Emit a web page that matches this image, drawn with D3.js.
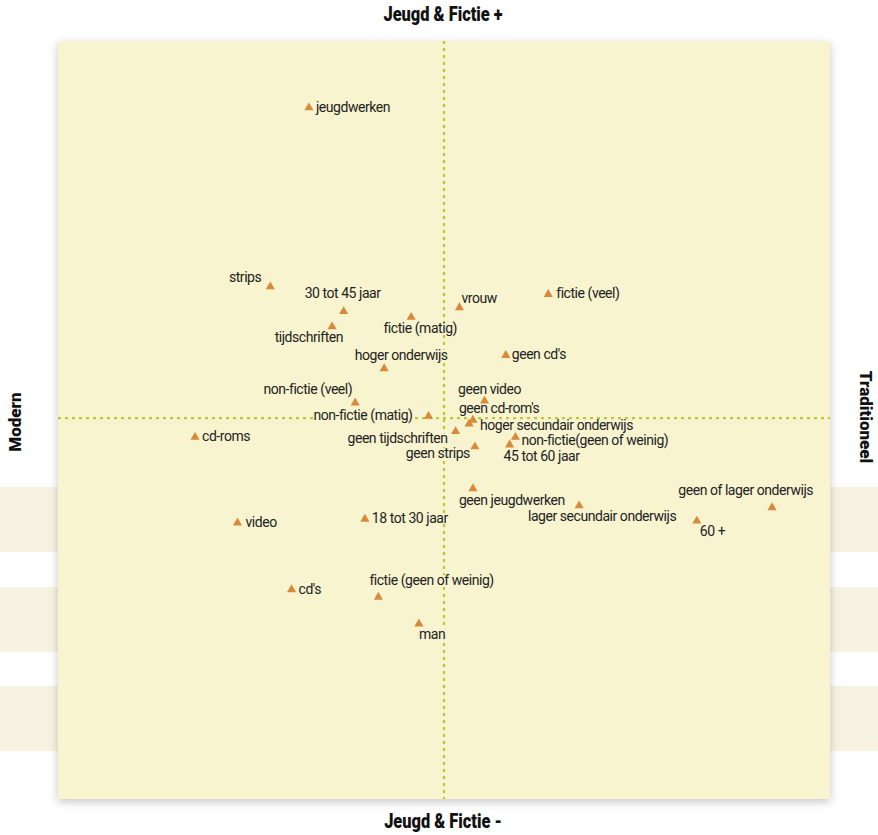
<!DOCTYPE html>
<html>
<head>
<meta charset="utf-8">
<script src="https://cdn.jsdelivr.net/npm/d3@7"></script>
<style>
  body { margin: 0; background: #fff; }
  text { font-family: Roboto, "DejaVu Sans Condensed", sans-serif; }
</style>
</head>
<body>
<div id="chart"></div>
<script>
// categorieën en hun coördinaten op de twee assen
const labels = ['jeugdwerken', 'strips', '30 tot 45 jaar', 'tijdschriften', 'fictie (matig)',
  'hoger onderwijs', 'vrouw', 'fictie (veel)', "geen cd's", 'non-fictie (veel)',
  'non-fictie (matig)', 'geen video', "geen cd-rom's", 'hoger secundair onderwijs',
  'geen tijdschriften', 'geen strips', 'non-fictie(geen of weinig)', '45 tot 60 jaar',
  'cd-roms', 'geen jeugdwerken', 'lager secundair onderwijs', 'geen of lager onderwijs',
  '60 +', 'video', '18 tot 30 jaar', "cd's", 'fictie (geen of weinig)', 'man'];
const xValues = [-0.70, -0.90, -0.52, -0.58, -0.17, -0.31, 0.08, 0.54, 0.32, -0.46,
  -0.08, 0.21, 0.15, 0.13, 0.06, 0.16, 0.37, 0.34, -1.29, 0.15, 0.70, 1.70,
  1.31, -1.07, -0.41, -0.79, -0.34, -0.13];
const yValues = [1.63, 0.69, 0.56, 0.48, 0.53, 0.26, 0.58, 0.65, 0.33, 0.08,
  0.01, 0.09, -0.01, -0.03, -0.07, -0.15, -0.10, -0.14, -0.10, -0.37, -0.46, -0.47,
  -0.54, -0.55, -0.53, -0.90, -0.94, -1.08];

// astitels
const axisTitles = { top: 'Jeugd & Fictie +', bottom: 'Jeugd & Fictie -', left: 'Modern', right: 'Traditioneel' };

// plaats van de labels t.o.v. het punt: [dx, dy, anker]
const labelPlace = [
  [7, 4, 'start'], [-9, -5, 'end'], [-1, -13, 'middle'], [11, 15, 'end'], [9, 16, 'middle'],
  [17, -9, 'middle'], [2, -5, 'start'], [8, 4, 'start'], [6, 4, 'start'], [-3, -9, 'end'],
  [-16, 4, 'end'], [5, -7, 'middle'], [-14, -7, 'start'], [11, 6, 'start'],
  [-8, 12, 'end'], [-5, 11, 'end'], [6, 8, 'start'], [-6, 16, 'start'],
  [7, 4, 'start'], [-14, 16, 'start'], [23, 15, 'middle'], [41, -13, 'end'],
  [3, 15, 'start'], [8, 4, 'start'], [7, 4, 'start'], [7, 4, 'start'], [-9, -12, 'start'],
  [0, 15, 'start']
];

const W = 878, H = 835;
const panel = { x: 58, y: 41, w: 772, h: 758 };

const svg = d3.select('#chart').append('svg')
  .attr('width', W).attr('height', H);

// achtergrondstroken van de pagina
[487, 587, 686].forEach(y => {
  svg.append('rect').attr('x', 0).attr('y', y).attr('width', W).attr('height', 65)
    .attr('fill', '#f7f3e2');
});

const defs = svg.append('defs');
const f = defs.append('filter').attr('id', 'shadow')
  .attr('x', '-5%').attr('y', '-5%').attr('width', '110%').attr('height', '110%');
f.append('feDropShadow').attr('dx', 0).attr('dy', 3).attr('stdDeviation', 5)
  .attr('flood-color', '#000').attr('flood-opacity', 0.22);

svg.append('rect')
  .attr('x', panel.x).attr('y', panel.y).attr('width', panel.w).attr('height', panel.h)
  .attr('fill', '#f8f4d0').attr('filter', 'url(#shadow)');

const x = d3.scaleLinear().domain([-2, 2]).range([panel.x, panel.x + panel.w]);
const y = d3.scaleLinear().domain([-2, 1.98]).range([panel.y + panel.h, panel.y]);

// assenkruis
const dash = { stroke: '#c0c637', 'stroke-width': 2.2, 'stroke-dasharray': '3 4' };
const vline = svg.append('line')
  .attr('x1', x(0)).attr('x2', x(0)).attr('y1', panel.y).attr('y2', panel.y + panel.h);
const hline = svg.append('line')
  .attr('x1', panel.x).attr('x2', panel.x + panel.w).attr('y1', y(0)).attr('y2', y(0));
[vline, hline].forEach(l => Object.entries(dash).forEach(([k, v]) => l.attr(k, v)));

const data = labels.map((d, i) => ({ name: d, x: xValues[i], y: yValues[i], p: labelPlace[i] }));

// labels met achtergrond in paneelkleur
const lab = svg.append('g').selectAll('g').data(data).enter().append('g');
lab.append('text')
  .attr('x', d => x(d.x) + d.p[0])
  .attr('y', d => y(d.y) + d.p[1])
  .attr('text-anchor', d => d.p[2])
  .attr('font-size', 14)
  .attr('letter-spacing', -0.45)
  .attr('fill', '#222')
  .text(d => d.name);
lab.each(function () {
  const g = d3.select(this);
  const bb = g.select('text').node().getBBox();
  g.insert('rect', 'text')
    .attr('x', bb.x).attr('y', bb.y + 3).attr('width', bb.width).attr('height', bb.height - 6)
    .attr('fill', '#f8f4d0');
});

// driehoekjes
const tri = d3.symbol().type(d3.symbolTriangle).size(36);
svg.append('g').selectAll('path').data(data).enter().append('path')
  .attr('d', tri)
  .attr('transform', d => `translate(${x(d.x)},${y(d.y)})`)
  .attr('fill', '#d9893a');

// astitels: boven/onder smal en vet, links/rechts gewoon vet
const title = (txt, tx, ty, rot, sx, fs) => svg.append('text')
  .attr('transform', `translate(${tx},${ty}) rotate(${rot}) scale(${sx},1)`)
  .attr('text-anchor', 'middle')
  .attr('font-size', fs).attr('font-weight', 900).attr('fill', '#111')
  .text(txt);
title(axisTitles.top, 443, 21, 0, 0.8, 20.5);
title(axisTitles.bottom, 443, 828, 0, 0.8, 20.5);
title(axisTitles.left, 21, 422, -90, 1, 17);
title(axisTitles.right, 860, 417, 90, 1, 17);
</script>
</body>
</html>
